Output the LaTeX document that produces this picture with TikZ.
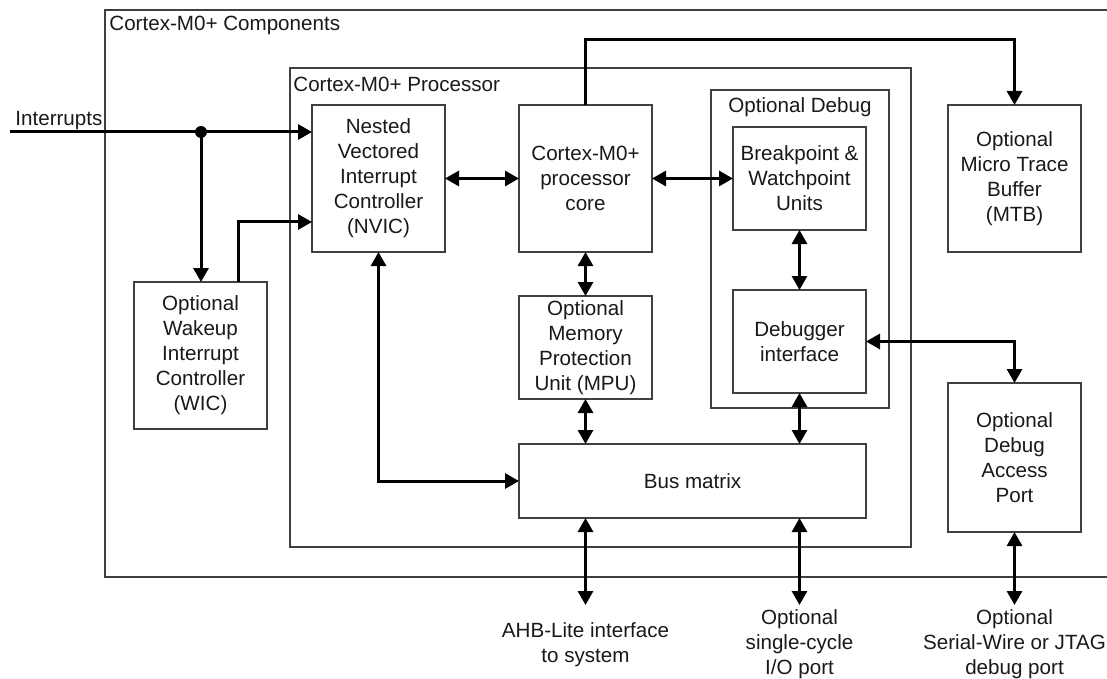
\documentclass[tikz,border=0pt]{standalone}
\usepackage{fontspec}
\setmainfont{Liberation Sans}
\usetikzlibrary{arrows.meta}
\begin{document}
\begin{tikzpicture}[x=0.5pt,y=-0.5pt,
    every node/.style={font=\fontsize{10.3}{12.5}\selectfont,text=black!90},
    bloque/.style={draw=black!75,line width=0.7pt,inner sep=0pt,outer sep=0pt,
        minimum width=66.5pt,align=center,fill=white},
    marco/.style={draw=black!75,line width=0.7pt},
    bus/.style={line width=1.5pt,-{Triangle[length=7pt,width=7.5pt]}},
    bbus/.style={line width=1.5pt,{Triangle[length=7pt,width=7.5pt]}-{Triangle[length=7pt,width=7.5pt]}}]
    \useasboundingbox (0,0) rectangle (1107,679);

    %Marcos
    \draw[marco] (1108,10) -- (105,10) -- (105,577) -- (1108,577);
    \node[anchor=west,inner sep=1pt] (tcomp) at (107,25) {Cortex-M0+ Components};
    \draw[marco] (290,68) rectangle (911,547);
    \node[anchor=west,inner sep=1pt] (tproc) at (291,84) {Cortex-M0+ Processor};
    \draw[marco] (711,90) rectangle (889,408);
    \node (tdbg) at (800,107) {Optional Debug};

    %Bloques
    \node[bloque,minimum height=73.5pt] (nvic) at (378.5,178.5) {Nested\\Vectored\\Interrupt\\Controller\\(NVIC)};
    \node[bloque,minimum height=73.5pt] (core) at (585.5,178.5) {Cortex-M0+\\processor\\core};
    \node[bloque,minimum height=51.5pt] (brk) at (799.5,178.5) {Breakpoint \&\\Watchpoint\\Units};
    \node[bloque,minimum height=51.5pt] (dbg) at (799.5,341.5) {Debugger\\interface};
    \node[bloque,minimum height=51.5pt] (mpu) at (585.5,347.5) {Optional\\Memory\\Protection\\Unit (MPU)};
    \node[bloque,minimum width=173.5pt,minimum height=37pt] (bus) at (692.5,481) {Bus matrix};
    \node[bloque,minimum height=73.5pt] (wic) at (200.5,355.5) {Optional\\Wakeup\\Interrupt\\Controller\\(WIC)};
    \node[bloque,minimum height=73.5pt] (mtb) at (1014.5,178.5) {Optional\\Micro Trace\\Buffer\\(MTB)};
    \node[bloque,minimum height=74.5pt] (dap) at (1014.5,457.5) {Optional\\Debug\\Access\\Port};

    %Interrupciones
    \coordinate (intin) at (10,132);
    \coordinate (split) at (201,132);
    \coordinate (kink) at (238,222);
    \node[anchor=west,inner sep=1pt] (tint) at (13,121) {Interrupts};
    \draw[bus] (intin) -- (intin -| nvic.west);
    \draw[bus] (split) -- (split |- wic.north);
    \fill (split) circle (3pt);
    \draw[bus] (kink |- wic.north) -- (kink) -- (kink -| nvic.west);

    %Conexiones internas
    \draw[bbus] (nvic.east) -- (core.west);
    \draw[bbus] (core.east) -- (brk.west);
    \draw[bbus] (core.south) -- (mpu.north);
    \draw[bbus] (mpu.south) -- (mpu.south |- bus.north);
    \draw[bbus] (brk.south) -- (dbg.north);
    \draw[bbus] (dbg.south) -- (dbg.south |- bus.north);
    \draw[bbus] (nvic.south) |- (bus.west);
    \draw[bus] (core.north) -- ++(0,-65) -| (mtb.north);
    \draw[bbus] (dbg.east) -| (dap.north);

    %Puertos externos
    \coordinate (ahb) at (585.5,605);
    \coordinate (iop) at (799.5,605);
    \coordinate (swj) at (1014.5,605);
    \draw[bbus] (bus.south -| ahb) -- (ahb);
    \draw[bbus] (bus.south -| iop) -- (iop);
    \draw[bbus] (dap.south) -- (swj);
    \node[align=center] (tahb) at (585.5,645) {AHB-Lite interface\\to system};
    \node[align=center] (tiop) at (799.5,644.5) {Optional\\single-cycle\\I/O port};
    \node[align=center] (tswj) at (1014.5,644.5) {Optional\\Serial-Wire or JTAG\\debug port};
\end{tikzpicture}
\end{document}
